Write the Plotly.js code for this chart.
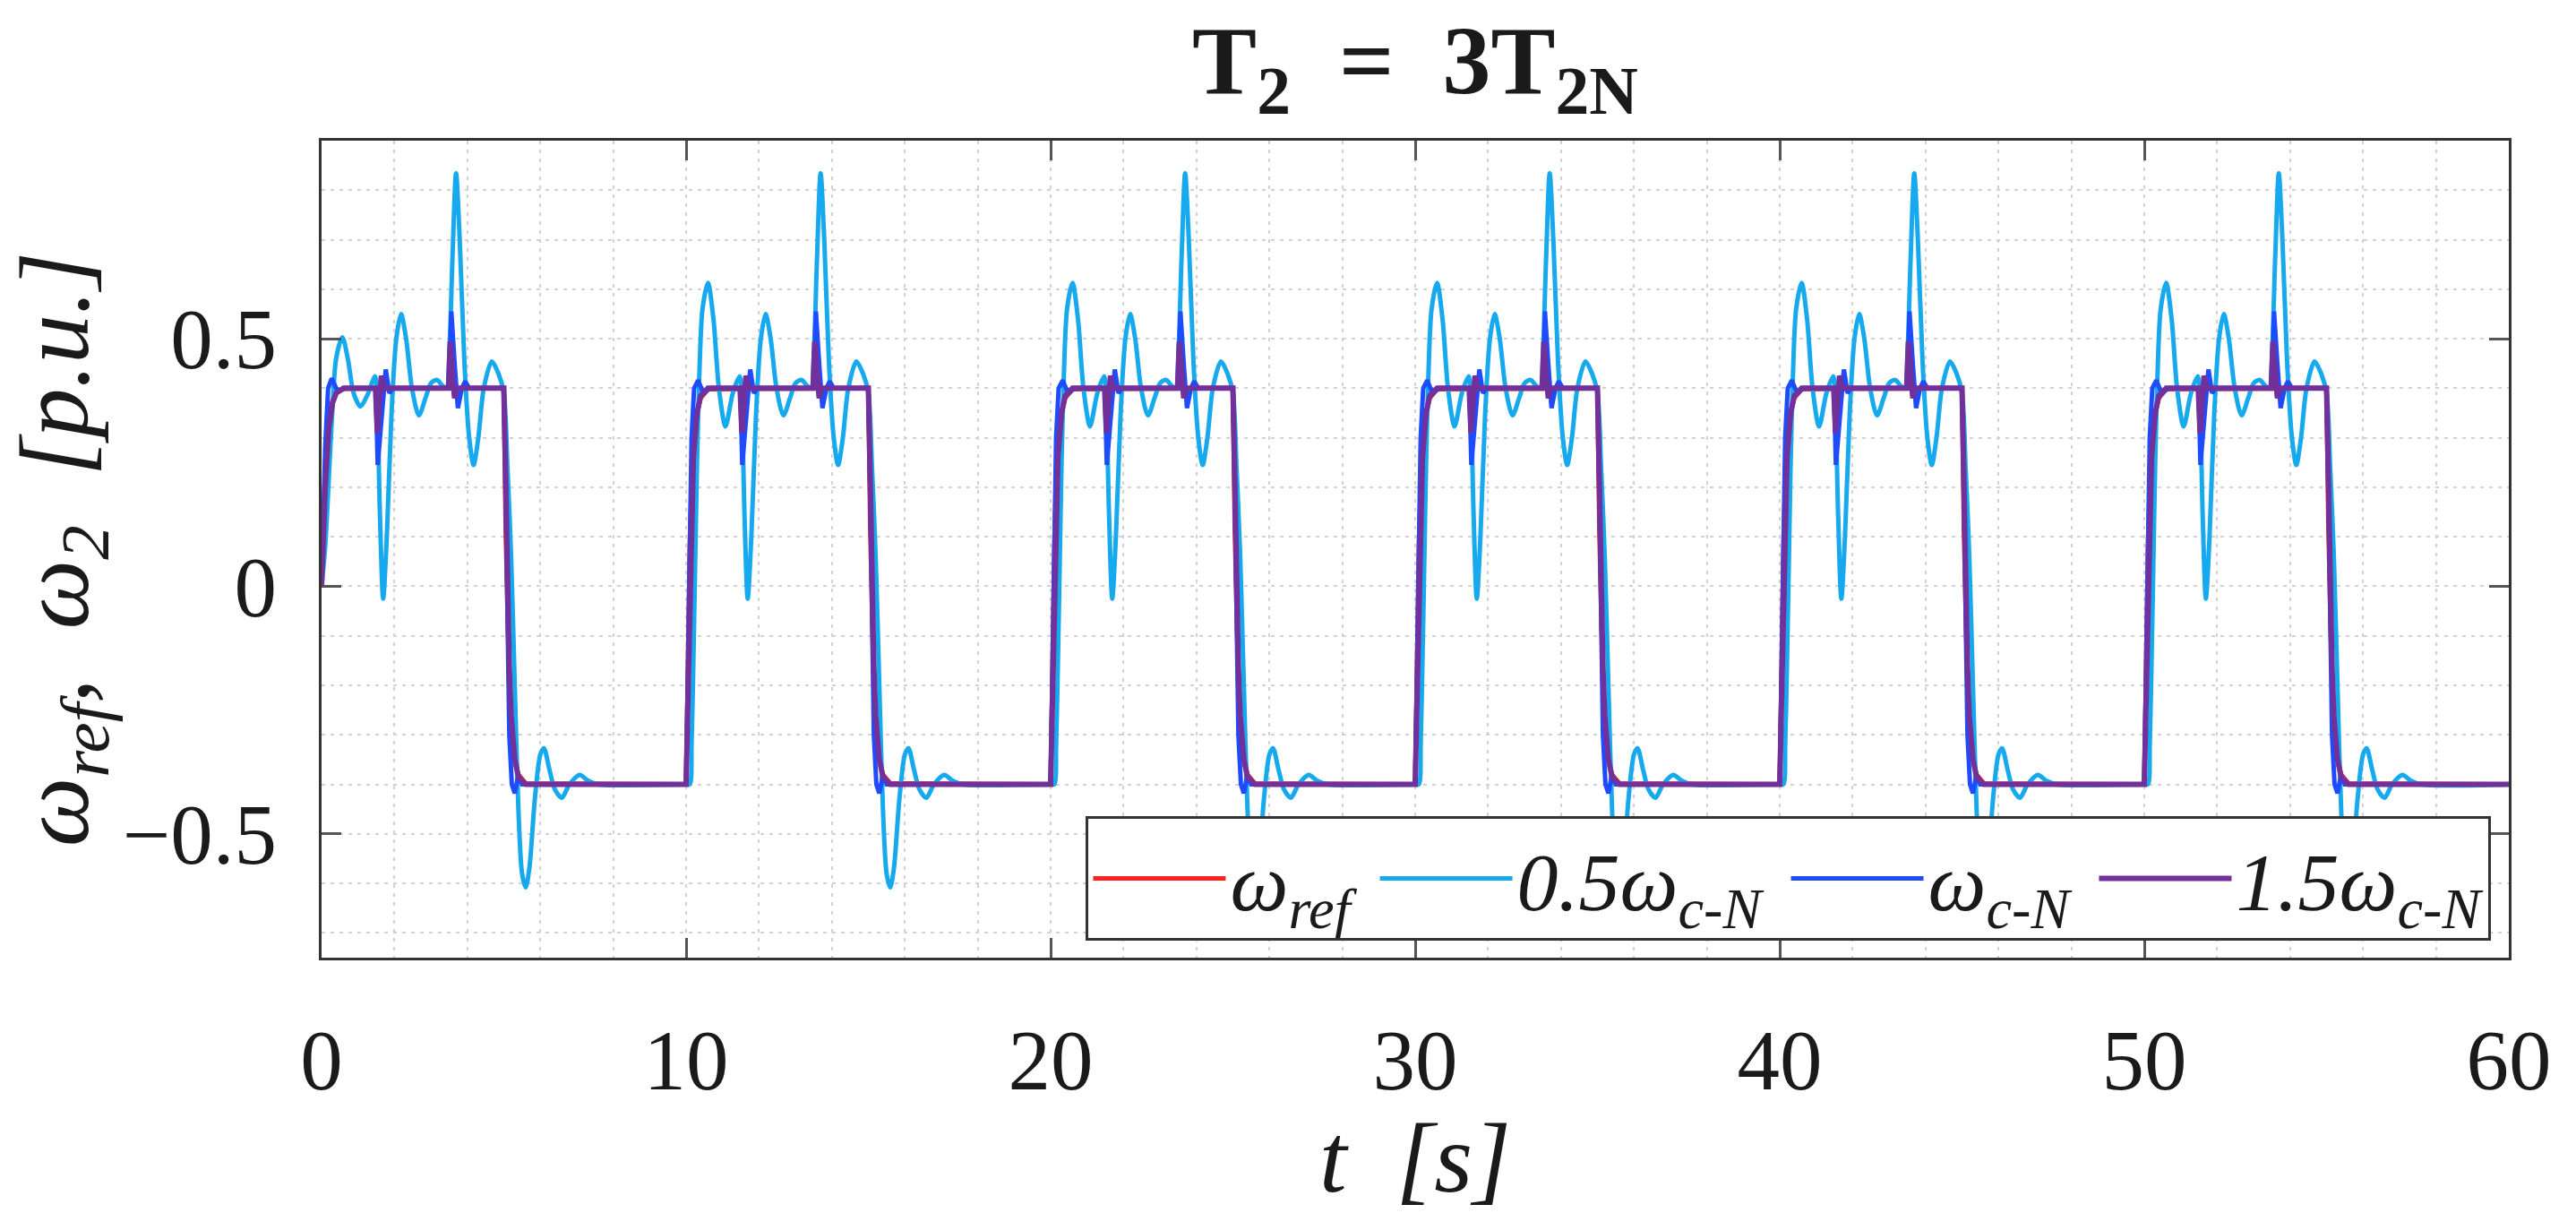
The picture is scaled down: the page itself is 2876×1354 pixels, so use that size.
<!DOCTYPE html>
<html>
<head>
<meta charset="utf-8">
<script src="https://cdn.plot.ly/plotly-3.0.1.min.js"></script>
<style>
html, body { margin: 0; padding: 0; background: #fff; }
#chart { width: 2876px; height: 1354px; }
</style>
</head>
<body>
<div id="chart"></div>
<script>
// the speed reference is a 10 s square wave, so every curve repeats each period.
var periodStarts = [0, 10, 20, 30, 40, 50];

// omega_ref
var refTau = [0, 0.05, 0.1, 0.15, 0.2, 0.3, 0.4, 0.6, 5.0, 5.05, 5.1, 5.15, 5.2, 5.3, 5.4, 5.6, 10];
var refVal = [-0.40, -0.12, 0.08, 0.21, 0.28, 0.35, 0.38, 0.398, 0.40, 0.12, -0.08, -0.21, -0.28, -0.35, -0.38, -0.398, -0.40];
// first period starts from standstill
var refInitTau = [0, 0.05, 0.1, 0.15, 0.2, 0.3, 0.4, 0.6];
var refInitVal = [0, 0.14, 0.24, 0.30, 0.34, 0.375, 0.39, 0.399];

// 0.5 omega_c-N
var lbTau = [0, 0.1, 0.15, 0.2, 0.25, 0.3, 0.36, 0.45, 0.6, 0.75, 0.9, 1.08, 1.28, 1.47, 1.53, 1.6, 1.69, 1.79, 1.92, 2.05, 2.18, 2.32, 2.48, 2.67, 2.85, 3.0, 3.16, 3.32, 3.43, 3.51, 3.59, 3.69, 3.79, 3.92, 4.05, 4.17, 4.3, 4.45, 4.67, 4.85, 5.0, 5.1, 5.2, 5.3, 5.4, 5.5, 5.6, 5.7, 5.85, 6.0, 6.1, 6.25, 6.4, 6.59, 6.8, 7.08, 7.3, 7.6, 10];
var lbVal = [-0.40, -0.40, -0.32, -0.15, 0.05, 0.25, 0.42, 0.56, 0.613, 0.54, 0.40, 0.323, 0.39, 0.424, 0.36, 0.15, -0.025, 0.10, 0.35, 0.50, 0.55, 0.50, 0.40, 0.345, 0.38, 0.41, 0.417, 0.405, 0.40, 0.48, 0.66, 0.834, 0.70, 0.45, 0.30, 0.245, 0.30, 0.40, 0.454, 0.43, 0.39, 0.24, 0.06, -0.2, -0.45, -0.58, -0.608, -0.57, -0.43, -0.34, -0.327, -0.37, -0.41, -0.427, -0.40, -0.381, -0.392, -0.40, -0.40];
var lbInitTau = [0, 0.1, 0.2, 0.3, 0.4, 0.57, 0.72, 0.88, 1.07, 1.25];
var lbInitVal = [0, 0.08, 0.22, 0.36, 0.46, 0.503, 0.46, 0.39, 0.363, 0.385];

// omega_c-N
var bTau = [0, 0.05, 0.1, 0.15, 0.22, 0.33, 0.42, 0.5, 0.65, 1.49, 1.54, 1.64, 1.76, 1.86, 1.95, 3.5, 3.56, 3.65, 3.74, 3.85, 3.94, 4.05, 5.0, 5.05, 5.1, 5.15, 5.22, 5.3, 5.4, 5.5, 10];
var bVal = [-0.40, -0.20, 0.10, 0.30, 0.40, 0.416, 0.40, 0.39, 0.40, 0.40, 0.245, 0.33, 0.438, 0.39, 0.40, 0.40, 0.555, 0.45, 0.36, 0.40, 0.414, 0.40, 0.40, 0.20, -0.10, -0.30, -0.40, -0.418, -0.38, -0.40, -0.40];
var bInitTau = [0, 0.05, 0.1, 0.18, 0.28, 0.4, 0.5, 0.65];
var bInitVal = [0, 0.15, 0.28, 0.40, 0.42, 0.40, 0.395, 0.40];

// 1.5 omega_c-N
var pTau = [0, 0.05, 0.1, 0.15, 0.2, 0.3, 0.4, 0.6, 1.48, 1.53, 1.64, 1.72, 3.48, 3.53, 3.6, 3.65, 3.72, 5.0, 5.05, 5.1, 5.15, 5.2, 5.3, 5.4, 5.6, 10];
var pVal = [-0.40, -0.22, 0.0, 0.16, 0.26, 0.35, 0.385, 0.40, 0.40, 0.31, 0.425, 0.40, 0.40, 0.494, 0.42, 0.38, 0.40, 0.40, 0.22, 0.0, -0.16, -0.26, -0.35, -0.385, -0.40, -0.40];
var pInitTau = [0, 0.05, 0.1, 0.2, 0.3, 0.4, 0.6];
var pInitVal = [0, 0.11, 0.2, 0.32, 0.37, 0.39, 0.40];

var seriesNames = ['ω<sub>ref</sub>&nbsp;', '0.5ω<sub>c-N</sub>&nbsp;', 'ω<sub>c-N</sub>&nbsp;', '1.5ω<sub>c-N</sub>'];
var seriesColors = ['#ff2020', '#17a9ee', '#1f4bff', '#72309a'];

function buildSeries(initTau, initVal, tau, val) {
	var x = [];
	var y = [];
	var lastInit = initTau[initTau.length - 1];
	initTau.forEach(function(t, i){
		x.push(t);
		y.push(initVal[i]);
	});
	periodStarts.forEach(function(t0, k){
		tau.forEach(function(t, i){
			if(k == 0 && t <= lastInit) return;
			if(k > 0 && i == 0) return;
			x.push(t0 + t);
			y.push(val[i]);
		});
	});
	return {x: x, y: y};
}

var built = [
	buildSeries(refInitTau, refInitVal, refTau, refVal),
	buildSeries(lbInitTau, lbInitVal, lbTau, lbVal),
	buildSeries(bInitTau, bInitVal, bTau, bVal),
	buildSeries(pInitTau, pInitVal, pTau, pVal)
];

var serif = '"Liberation Serif", "Times New Roman", serif';

var data = [];
built.forEach(function(s, indx){
	data.push({
		x: s.x,
		y: s.y,
		name: seriesNames[indx],
		type: 'scatter',
		mode: 'lines',
		line: {
			color: seriesColors[indx],
			width: indx == 3 ? 6 : 5,
			shape: indx == 1 ? 'spline' : 'linear',
			smoothing: 0.8
		}
	});
});

var gridColor = '#d2d2d2';
var gridDash = '4px,6px';

var axisCommon = {
	ticks: 'inside',
	ticklen: 22,
	tickwidth: 3,
	tickcolor: '#555',
	showline: true,
	linecolor: '#333',
	linewidth: 3,
	mirror: 'ticks',
	showgrid: true,
	gridcolor: gridColor,
	gridwidth: 2,
	griddash: gridDash,
	zeroline: false,
	tickfont: {family: serif, size: 95, color: '#1a1a1a'}
};

var layout = {
	width: 2876,
	height: 1354,
	margin: {l: 359, r: 75, t: 157, b: 285},
	paper_bgcolor: '#fff',
	plot_bgcolor: '#fff',
	showlegend: true,
	title: {
		text: '<b>T<sub>2</sub>&nbsp;&nbsp;=&nbsp;&nbsp;3T<sub>2N</sub></b>',
		font: {family: serif, size: 108, color: '#1a1a1a'},
		x: 0.5,
		xref: 'paper',
		y: 0.951,
		yref: 'container',
		yanchor: 'middle'
	},
	xaxis: Object.assign({}, axisCommon, {
		range: [0, 60],
		tickmode: 'linear',
		tick0: 0,
		dtick: 10,
		ticklabelstandoff: 30,
		minor: {tick0: 0, dtick: 2, showgrid: true, gridcolor: gridColor, gridwidth: 2, griddash: gridDash, ticks: ''},
		title: {text: '<i>t&nbsp;&nbsp;[s]</i>', font: {family: serif, size: 110, color: '#1a1a1a'}, standoff: 32}
	}),
	yaxis: Object.assign({}, axisCommon, {
		range: [-0.75, 0.9],
		tickmode: 'linear',
		tick0: 0,
		dtick: 0.5,
		ticklabelstandoff: 28,
		minor: {tick0: 0, dtick: 0.1, showgrid: true, gridcolor: gridColor, gridwidth: 2, griddash: gridDash, ticks: ''},
		title: {text: '<i>ω<sub>ref</sub>,&nbsp;&nbsp;ω<sub>2</sub>&nbsp;&nbsp;[p.u.]</i>', font: {family: serif, size: 110, color: '#1a1a1a'}, standoff: 40}
	}),
	legend: {
		orientation: 'h',
		x: 0.992,
		xanchor: 'right',
		y: 0.173,
		yanchor: 'top',
		bgcolor: '#fff',
		bordercolor: '#333',
		borderwidth: 3,
		itemwidth: 148,
		font: {family: serif, size: 92, style: 'italic', color: '#1a1a1a'}
	}
};

Plotly.newPlot('chart', data, layout, {displayModeBar: false, staticPlot: true});
</script>
</body>
</html>
